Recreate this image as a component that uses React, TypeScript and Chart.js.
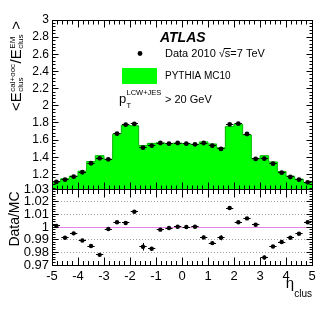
import React, { useEffect, useRef } from 'react';
import { Chart, registerables } from 'chart.js';

Chart.register(...registerables);

const FONT = "'Liberation Sans', Arial, Helvetica, sans-serif";

// Bin edges in eta (30 bins of width 1/3)
const binEdges = [
  -5, -4.667, -4.333, -4, -3.667, -3.333, -3, -2.667, -2.333, -2, -1.667, -1.333, -1, -0.667, -0.333,
  0, 0.333, 0.667, 1, 1.333, 1.667, 2, 2.333, 2.667, 3, 3.333, 3.667, 4, 4.333, 4.667, 5,
];

// Data 2010 <E_cal+ooc / E_EM>
const dataValues = [
  1.112, 1.139, 1.174, 1.225, 1.33, 1.388, 1.376, 1.675, 1.78, 1.788, 1.512, 1.535, 1.566, 1.558, 1.566,
  1.558, 1.551, 1.566, 1.535, 1.497, 1.784, 1.792, 1.671, 1.38, 1.384, 1.325, 1.22, 1.17, 1.139, 1.108,
];
const dataErrors = [
  0.002, 0.002, 0.002, 0.002, 0.002, 0.002, 0.002, 0.002, 0.002, 0.002, 0.004, 0.003, 0.002, 0.002, 0.002,
  0.002, 0.002, 0.003, 0.003, 0.003, 0.002, 0.002, 0.002, 0.002, 0.003, 0.002, 0.002, 0.002, 0.002, 0.002,
];

// PYTHIA MC10
const mcValues = [
  1.111, 1.149, 1.18, 1.238, 1.35, 1.419, 1.378, 1.669, 1.774, 1.767, 1.536, 1.562, 1.569, 1.559, 1.566,
  1.558, 1.551, 1.579, 1.555, 1.51, 1.758, 1.785, 1.66, 1.378, 1.418, 1.346, 1.235, 1.18, 1.145, 1.104,
];

// Data / MC
const ratioValues = [
  1.0008, 0.9915, 0.995, 0.9894, 0.985, 0.978, 0.9984, 1.0037, 1.0032, 1.012, 0.9844, 0.9828, 0.9979, 0.9992, 1.0002,
  1.0, 1.0002, 0.9918, 0.9873, 0.9915, 1.015, 1.0037, 1.0068, 1.0018, 0.9759, 0.9846, 0.9881, 0.9915, 0.9947, 1.0037,
];
const ratioErrors = [
  0.0008, 0.0008, 0.0008, 0.0008, 0.0008, 0.0008, 0.0008, 0.0008, 0.0008, 0.0012, 0.003, 0.0015, 0.0008, 0.0008, 0.0008,
  0.0008, 0.0008, 0.0015, 0.0015, 0.002, 0.0012, 0.0008, 0.0008, 0.0008, 0.0015, 0.0008, 0.0008, 0.0008, 0.0008, 0.0008,
];

const topTicks = [1.2, 1.4, 1.6, 1.8, 2, 2.2, 2.4, 2.6, 2.8, 3];
const ratioTicks = [0.97, 0.98, 0.99, 1, 1.01, 1.02, 1.03];
const ratioGrid = [0.98, 0.99, 1.01, 1.02];
const etaTicks = [-5, -4, -3, -2, -1, 0, 1, 2, 3, 4, 5];

const fmt = (v: number) => String(parseFloat(v.toFixed(2)));

function line(ctx: CanvasRenderingContext2D, x1: number, y1: number, x2: number, y2: number) {
  ctx.beginPath();
  ctx.moveTo(x1, y1);
  ctx.lineTo(x2, y2);
  ctx.stroke();
}
const hp = (v: number) => Math.floor(v) + 0.5;

function drawYTitle(ctx: CanvasRenderingContext2D) {
  const big = `15px ${FONT}`;
  const small = `8px ${FONT}`;
  const parts: Array<{ t?: string; sup?: string; sub?: string }> = [
    { t: '<E' },
    { sup: 'cal+ooc', sub: 'clus' },
    { t: '/E' },
    { sup: 'EM', sub: 'clus' },
    { t: ' >' },
  ];
  const widths = parts.map((p) => {
    if (p.t) {
      ctx.font = big;
      return ctx.measureText(p.t).width;
    }
    ctx.font = small;
    return Math.max(ctx.measureText(p.sup!).width, ctx.measureText(p.sub!).width) + 1;
  });
  const total = widths.reduce((a, b) => a + b, 0);
  ctx.save();
  ctx.translate(21, 66);
  ctx.rotate(-Math.PI / 2);
  ctx.textAlign = 'left';
  ctx.textBaseline = 'alphabetic';
  let x = -total / 2;
  parts.forEach((p, i) => {
    if (p.t) {
      ctx.font = big;
      ctx.fillText(p.t, x, 0);
    } else {
      ctx.font = small;
      ctx.fillText(p.sup!, x + 0.5, -6);
      ctx.fillText(p.sub!, x + 0.5, 2);
    }
    x += widths[i];
  });
  ctx.restore();
}

const decorPlugin = {
  id: 'atlasDecor',
  beforeDatasetsDraw(chart: any) {
    const ctx: CanvasRenderingContext2D = chart.ctx;
    const xs = chart.scales.x;
    const y2 = chart.scales.y2;
    ctx.save();
    ctx.lineWidth = 1;
    ctx.strokeStyle = '#9c9c9c';
    ctx.setLineDash([1, 2]);
    ratioGrid.forEach((v) => {
      const py = hp(y2.getPixelForValue(v));
      line(ctx, xs.left, py, xs.right, py);
    });
    ctx.setLineDash([]);
    ctx.strokeStyle = '#e882e8';
    const p1 = hp(y2.getPixelForValue(1));
    line(ctx, xs.left, p1, xs.right, p1);
    ctx.restore();
  },
  afterDatasetsDraw(chart: any) {
    const ctx: CanvasRenderingContext2D = chart.ctx;
    const xs = chart.scales.x;
    const y = chart.scales.y;
    const y2 = chart.scales.y2;
    ctx.save();
    ctx.strokeStyle = '#000';
    ctx.lineWidth = 1;
    const hw = 0.14;
    const drawErr = (vals: number[], errs: number[], sc: any) => {
      vals.forEach((v, i) => {
        const c = (binEdges[i] + binEdges[i + 1]) / 2;
        const px = hp(xs.getPixelForValue(c));
        const py = hp(sc.getPixelForValue(v));
        line(ctx, xs.getPixelForValue(c - hw), py, xs.getPixelForValue(c + hw), py);
        line(ctx, px, sc.getPixelForValue(v + errs[i]), px, sc.getPixelForValue(v - errs[i]));
      });
    };
    drawErr(dataValues, dataErrors, y);
    drawErr(ratioValues, ratioErrors, y2);
    ctx.restore();
  },
  afterDraw(chart: any) {
    const ctx: CanvasRenderingContext2D = chart.ctx;
    const xs = chart.scales.x;
    const y = chart.scales.y;
    const y2 = chart.scales.y2;
    const L = hp(xs.left);
    const R = hp(xs.right);
    ctx.save();
    ctx.strokeStyle = '#000';
    ctx.lineWidth = 1;
    // frames
    const tTop = hp(y.top);
    const tBot = hp(y.bottom);
    const bTop = hp(y2.top);
    const bBot = hp(y2.bottom);
    ctx.strokeRect(L, tTop, R - L, tBot - tTop);
    ctx.strokeRect(L, bTop, R - L, bBot - bTop);

    // vertical-axis ticks
    const yTicks = (sc: any, vals: number[], len: number) => {
      vals.forEach((v) => {
        const py = hp(sc.getPixelForValue(v));
        line(ctx, L, py, L + len, py);
        line(ctx, R, py, R - len, py);
      });
    };
    const topMinor: number[] = [];
    for (let k = 26; k <= 75; k++) topMinor.push(k * 0.04);
    const botMinor: number[] = [];
    for (let k = 485; k <= 515; k++) botMinor.push(k * 0.002);
    yTicks(y, topMinor, 3);
    yTicks(y, topTicks, 6);
    yTicks(y2, botMinor, 3);
    yTicks(y2, ratioTicks, 6);

    // horizontal-axis ticks
    const xMinor: number[] = [];
    for (let k = -25; k <= 25; k++) xMinor.push(k * 0.2);
    const xTicks = (vals: number[], yEdge: number, dir: number, len: number) => {
      vals.forEach((v) => {
        const px = hp(xs.getPixelForValue(v));
        line(ctx, px, yEdge, px, yEdge + dir * len);
      });
    };
    xTicks(xMinor, tTop, 1, 4);
    xTicks(etaTicks, tTop, 1, 7);
    xTicks(xMinor, tBot, -1, 4);
    xTicks(etaTicks, tBot, -1, 7);
    xTicks(xMinor, bTop, 1, 4.5);
    xTicks(etaTicks, bTop, 1, 8);
    xTicks(xMinor, bBot, -1, 4.5);
    xTicks(etaTicks, bBot, -1, 8);

    // texts
    ctx.fillStyle = '#000';
    ctx.textAlign = 'left';
    ctx.textBaseline = 'alphabetic';
    ctx.font = `italic bold 14px ${FONT}`;
    ctx.fillText('ATLAS', 160, 41.5);

    // legend: data marker
    ctx.beginPath();
    ctx.arc(140, 53.5, 2.4, 0, Math.PI * 2);
    ctx.fill();
    ctx.font = `11px ${FONT}`;
    const pre = 'Data 2010 \u221A';
    ctx.fillText(pre, 165, 57);
    const wPre = ctx.measureText(pre).width;
    ctx.fillText('s', 165 + wPre, 57);
    const wS = ctx.measureText('s').width;
    ctx.fillText('=7 TeV', 165 + wPre + wS, 57);
    line(ctx, 165 + wPre - 1, 48.5, 165 + wPre + wS + 0.5, 48.5);

    // legend: MC box
    ctx.fillStyle = '#00ff00';
    ctx.fillRect(122, 68, 35, 16);
    ctx.fillStyle = '#000';
    ctx.font = `10px ${FONT}`;
    ctx.fillText('PYTHIA MC10', 165, 78.5);

    // pT cut
    ctx.font = `13px ${FONT}`;
    ctx.fillText('p', 119, 102.5);
    ctx.font = `7.5px ${FONT}`;
    ctx.fillText('LCW+JES', 126.5, 94.5);
    ctx.fillText('T', 126.5, 108);
    ctx.font = `11px ${FONT}`;
    ctx.fillText('> 20 GeV', 165, 102.5);

    // y titles
    drawYTitle(ctx);
    ctx.save();
    ctx.translate(18.5, 219);
    ctx.rotate(-Math.PI / 2);
    ctx.textAlign = 'center';
    ctx.font = `14px ${FONT}`;
    ctx.fillText('Data/MC', 0, 0);
    ctx.restore();

    // x title
    ctx.textAlign = 'right';
    ctx.font = `10px ${FONT}`;
    ctx.fillText('clus', 312, 297);
    const wc = ctx.measureText('clus').width;
    ctx.font = `15px ${FONT}`;
    ctx.fillText('\u03B7', 312 - wc, 288);
    ctx.restore();
  },
};

export default function App() {
  const ref = useRef<HTMLCanvasElement>(null);
  useEffect(() => {
    const canvas = ref.current!;
    const centers = dataValues.map((_, i) => (binEdges[i] + binEdges[i + 1]) / 2);
    const mcStairs = binEdges.map((e, i) => ({ x: e, y: mcValues[Math.min(i, mcValues.length - 1)] }));
    const dataPts = dataValues.map((v, i) => ({ x: centers[i], y: v }));
    const ratioPts = ratioValues.map((v, i) => ({ x: centers[i], y: v }));

    const chart = new Chart(canvas, {
      type: 'line',
      data: {
        datasets: [
          {
            label: 'PYTHIA MC10',
            data: mcStairs,
            yAxisID: 'y',
            xAxisID: 'x',
            stepped: 'before',
            fill: 'start',
            backgroundColor: '#00ff00',
            borderColor: '#00b800',
            borderWidth: 1,
            pointRadius: 0,
            order: 3,
          },
          {
            label: 'Data 2010',
            data: dataPts,
            yAxisID: 'y',
            xAxisID: 'x',
            showLine: false,
            pointRadius: 2.4,
            pointBackgroundColor: '#000',
            pointBorderWidth: 0,
            order: 1,
          },
          {
            label: 'Data/MC',
            data: ratioPts,
            yAxisID: 'y2',
            xAxisID: 'x',
            showLine: false,
            pointRadius: 2.2,
            pointBackgroundColor: '#000',
            pointBorderWidth: 0,
            order: 1,
          },
        ],
      } as any,
      options: {
        animation: false,
        responsive: false,
        devicePixelRatio: 1,
        events: [],
        layout: { padding: { top: 20, right: 17, left: 0, bottom: 0 } },
        plugins: { legend: { display: false }, tooltip: { enabled: false } },
        scales: {
          x: {
            type: 'linear',
            position: 'bottom',
            min: -5,
            max: 5,
            grid: { display: false, drawTicks: false },
            border: { display: false },
            afterBuildTicks: (s: any) => {
              s.ticks = etaTicks.map((v) => ({ value: v }));
            },
            ticks: {
              autoSkip: false,
              maxRotation: 0,
              padding: 4,
              color: '#000',
              font: { family: FONT, size: 13 },
              callback: (v: any) => String(v),
            },
            afterFit: (s: any) => {
              s.height = 51;
            },
          },
          y2: {
            type: 'linear',
            position: 'left',
            stack: 'panels',
            stackWeight: 76,
            min: 0.97,
            max: 1.03,
            grid: { display: false, drawTicks: false },
            border: { display: false },
            afterBuildTicks: (s: any) => {
              s.ticks = ratioTicks.map((v) => ({ value: v }));
            },
            ticks: {
              autoSkip: false,
              padding: 3,
              color: '#000',
              font: { family: FONT, size: 13 },
              callback: (v: any) => fmt(Number(v)),
            },
            afterFit: (s: any) => {
              s.width = 52;
            },
          },
          y: {
            type: 'linear',
            position: 'left',
            stack: 'panels',
            stackWeight: 169,
            min: 1.03,
            max: 3,
            grid: { display: false, drawTicks: false },
            border: { display: false },
            afterBuildTicks: (s: any) => {
              s.ticks = topTicks.map((v) => ({ value: v }));
            },
            ticks: {
              autoSkip: false,
              padding: 3,
              color: '#000',
              font: { family: FONT, size: 12 },
              callback: (v: any) => fmt(Number(v)),
            },
            afterFit: (s: any) => {
              s.width = 52;
            },
          },
        },
      } as any,
      plugins: [decorPlugin],
    });
    return () => chart.destroy();
  }, []);

  return (
    <div style={{ position: 'fixed', left: 0, top: 0, width: 329, height: 316, background: '#fff' }}>
      <canvas ref={ref} width={329} height={316} style={{ display: 'block', width: 329, height: 316 }} />
    </div>
  );
}
